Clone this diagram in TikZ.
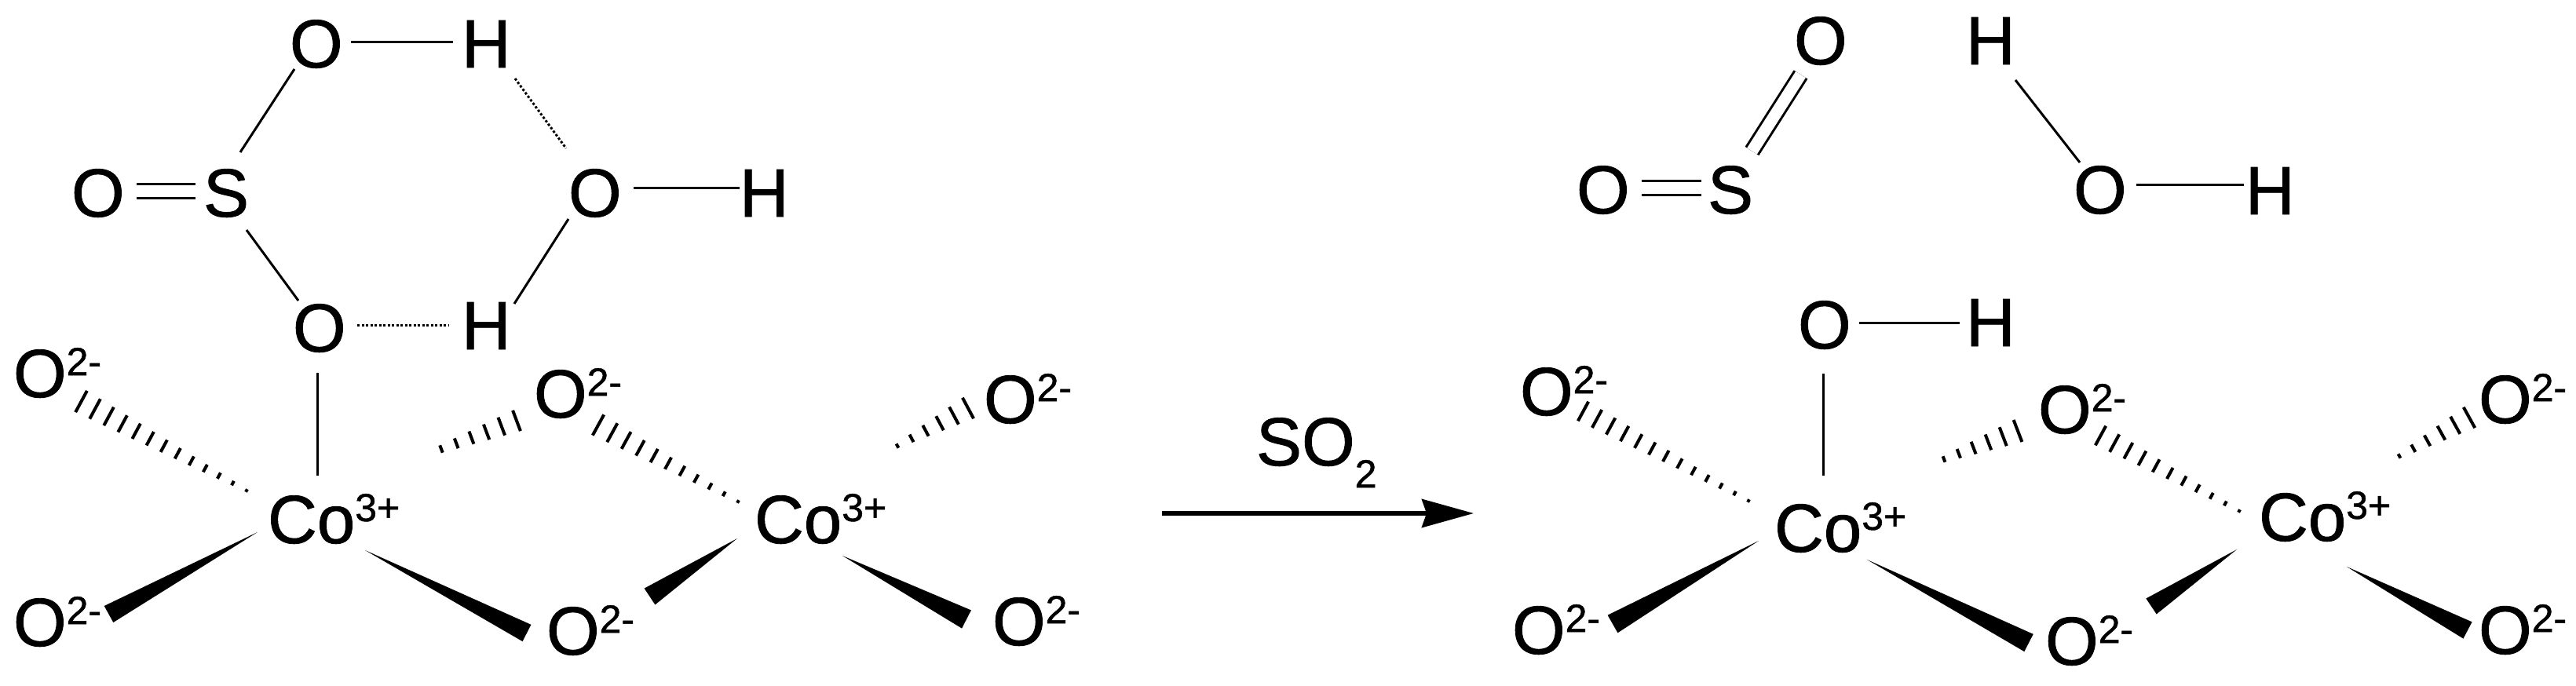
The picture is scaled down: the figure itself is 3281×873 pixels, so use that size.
\documentclass[tikz,border=0pt]{standalone}
\usepackage{fontspec}
\setmainfont[FakeBold=1]{Liberation Sans}
\newfontfamily\atomfont[FakeBold=1]{Liberation Sans}
\usetikzlibrary{calc,arrows.meta}
\newcommand\chargeup[1]{\raisebox{28pt}{\fontsize{50}{50}\selectfont #1}}
\newcommand\chargedown[1]{\raisebox{-28pt}{\fontsize{50}{50}\selectfont #1}}
\tikzset{
  atom/.style={inner sep=0pt,outer sep=0pt,anchor=base west,font=\atomfont\fontsize{87}{100}\selectfont},
  bond/.style={line width=3pt,black},
  hbond/.style={line width=3pt,black,dash pattern=on 3pt off 2.5pt},
  dbond/.style={line width=3pt,black,double=white,double distance=15pt},
  hashbar/.style={line width=4pt,black},
  rxn/.style={line width=5.5pt,black,-{Stealth[length=66pt,width=36pt,inset=6pt]}}
}
% tip node, offset, wide-end node, offset, half width
\newcommand\solidwedge[5]{%
  \coordinate (wA) at ($(#1.base west)+(#2)$);
  \coordinate (wB) at ($(#3.base west)+(#4)$);
  \fill[black] (wA) -- ($(wB)!#5pt!90:(wA)$) -- ($(wB)!#5pt!-90:(wA)$) -- cycle;
}
% tip node, offset, wide-end node, offset, bars, half width wide, half width narrow
\newcommand\hashbond[7]{%
  \coordinate (hA) at ($(#1.base west)+(#2)$);
  \coordinate (hB) at ($(#3.base west)+(#4)$);
  \coordinate (hC) at ($(hA)!1.5!(hB)$);
  \pgfmathtruncatemacro\hashlast{#5-1}
  \foreach \hashi in {0,...,\hashlast}{
    \pgfmathsetmacro\hashpos{\hashi/\hashlast}
    \pgfmathsetmacro\hashw{#7+(#6-#7)*\hashpos}
    \draw[hashbar] ($(hA)!\hashpos!(hB)!\hashw pt!90:(hC)$) -- ($(hA)!\hashpos!(hB)!\hashw pt!-90:(hC)$);
  }
}
\newcommand\bondline[5]{%
  \draw[#1] ($(#2.base west)+(#3)$) -- ($(#4.base west)+(#5)$);
}
\begin{document}
\begin{tikzpicture}[x=1pt,y=-1pt]
\fill[white] (0,0) rectangle (3281,873);
\useasboundingbox (0,0) rectangle (3281,873);
% left molecule
\node[atom] (oa) at (369,86) {O};
\node[atom] (ha) at (588,86) {H};
\node[atom] (sa) at (259,276) {S};
\node[atom] (ob) at (91,276) {O};
\node[atom] (oc) at (724,276) {O};
\node[atom] (hb) at (942,276) {H};
\node[atom] (od) at (373,448) {O};
\node[atom] (hc) at (588,445) {H};
\node[atom] (i1) at (17,506) {O\chargeup{2-}};
\node[atom] (i2) at (680,532) {O\chargeup{2-}};
\node[atom] (i3) at (17,823) {O\chargeup{2-}};
\node[atom] (i4) at (696,834) {O\chargeup{2-}};
\node[atom] (i5) at (1253,539) {O\chargeup{2-}};
\node[atom] (i6) at (1264,822) {O\chargeup{2-}};
\node[atom] (co1) at (341,692) {Co\chargeup{3+}};
\node[atom] (co2) at (961,692) {Co\chargeup{3+}};
\bondline{bond}{oa}{78,-33}{ha}{-11,-33}
\bondline{bond}{oa}{6,2}{sa}{47,-82}
\bondline{hbond}{ha}{68,14}{oc}{-3,-87}
\bondline{dbond}{ob}{83,-32.5}{sa}{-10,-32.5}
\bondline{bond}{oc}{83,-37}{hb}{0,-37}
\bondline{bond}{sa}{55,17}{od}{7,-65}
\bondline{bond}{oc}{0,3}{hc}{67,-58}
\bondline{hbond}{od}{82,-34}{hc}{-16,-31}
\bondline{bond}{od}{31,27}{co1}{63,-86}
\hashbond{co1}{-27,-67}{i1}{86.5,5.5}{13}{15.5}{2}
\hashbond{co1}{221,-120}{i2}{-22,4}{6}{14}{5}
\hashbond{co2}{-21,-53}{i2}{82,9.5}{11}{15}{2}
\hashbond{co2}{182,-124}{i5}{-20,-19}{6}{15}{3}
\solidwedge{co1}{-13,-14}{i3}{121.5,-40.5}{12}
\solidwedge{co1}{124,9}{i4}{-25,-27.5}{12}
\solidwedge{co2}{-22,-6}{i4}{131.5,-74}{12.5}
\solidwedge{co2}{112,16}{i6}{-33,-33}{13}
% reaction arrow
\node[atom] (so) at (1600,593) {SO\chargedown{2}};
\coordinate (rs) at (1480,654);
\coordinate (re) at (1877,654);
\draw[rxn] (rs) -- (re);
% right molecule
\node[atom] (oe) at (2285,82) {O};
\node[atom] (hd) at (2504,82) {H};
\node[atom] (se) at (2175,272) {S};
\node[atom] (of) at (2008,272) {O};
\node[atom] (og) at (2641,272) {O};
\node[atom] (he) at (2860,273) {H};
\node[atom] (oh) at (2290,444) {O};
\node[atom] (hf) at (2504,441) {H};
\node[atom] (co3) at (2260,703) {Co\chargeup{3+}};
\node[atom] (co4) at (2877,689) {Co\chargeup{3+}};
\node[atom] (i7) at (1936,529) {O\chargeup{2-}};
\node[atom] (i8) at (2596,552) {O\chargeup{2-}};
\node[atom] (i9) at (3157,539) {O\chargeup{2-}};
\node[atom] (i10) at (1926,833) {O\chargeup{2-}};
\node[atom] (i11) at (2605,847) {O\chargeup{2-}};
\node[atom] (i12) at (3157,833) {O\chargeup{2-}};
\bondline{dbond}{of}{83,-33}{se}{-8,-33}
\bondline{dbond}{se}{56.5,-79.5}{oe}{8.5,13}
\bondline{bond}{hd}{63,20}{og}{8,-65}
\bondline{bond}{og}{80,-37}{he}{-2,-38}
\bondline{bond}{oh}{78,-33}{hf}{-8,-30}
\bondline{bond}{oh}{32.5,32}{co3}{62.5,-97}
\hashbond{co3}{-33,-65}{i7}{80.5,-5}{13}{14}{2}
\hashbond{co3}{216,-118}{i8}{-26,-3}{6}{15}{4}
\hashbond{co4}{-25,-38}{i8}{79.5,3}{11}{14}{2}
\hashbond{co4}{179,-108}{i9}{-12,-7}{6}{15}{3}
\solidwedge{co3}{-20,-14}{i10}{128,-38}{13}
\solidwedge{co3}{118,10}{i11}{-21,-28}{12.5}
\solidwedge{co4}{-28,11}{i11}{135,-74.5}{12}
\solidwedge{co4}{112,33}{i12}{-14,-30}{12}
\end{tikzpicture}
\end{document}
